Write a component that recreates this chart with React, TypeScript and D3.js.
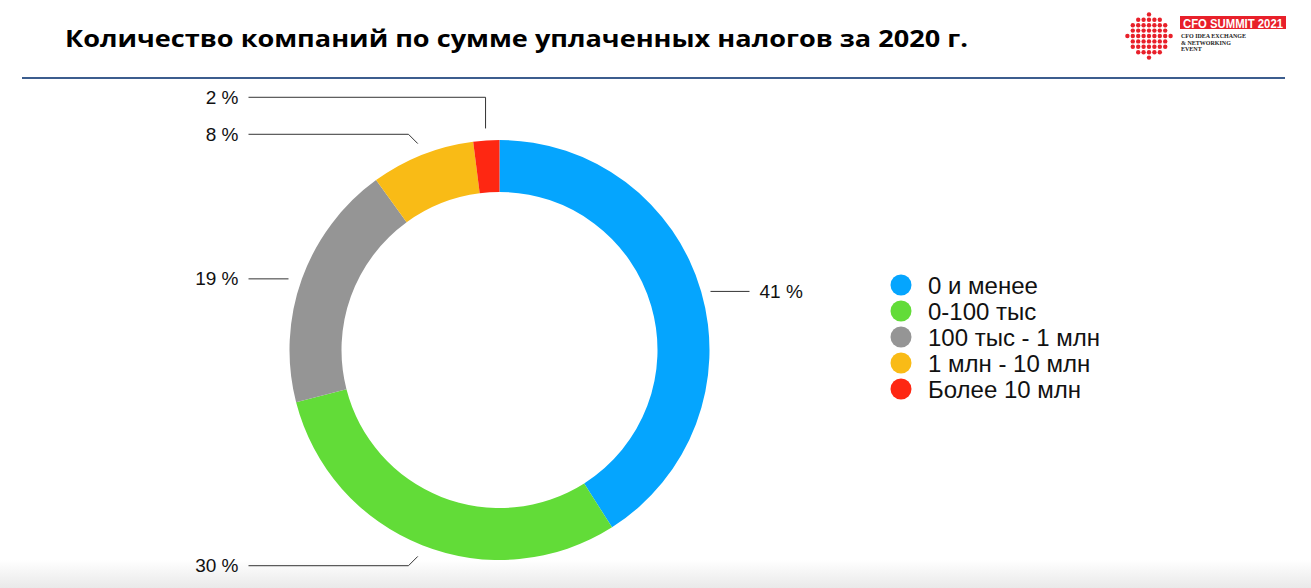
import * as d3 from 'd3';

const categories = ['0 и менее', '0-100 тыс', '100 тыс - 1 млн', '1 млн - 10 млн', 'Более 10 млн'];
const shares = [41, 30, 19, 8, 2];
const colors = ['#05a5fe', '#62dc38', '#959595', '#f9bb16', '#fe2712'];
const title = 'Количество компаний по сумме уплаченных налогов за 2020 г.';

const W = 1311;
const H = 588;
const cx = 499.5;
const cy = 350;
const outer = 210;
const inner = 158;
const labelFont = "'Liberation Sans', Arial, sans-serif";

type Slice = d3.PieArcDatum<number>;

// leader line + label position for one slice
function callout(d: Slice, placed: number[]) {
  const mid = (d.startAngle + d.endAngle) / 2;
  const sx = Math.sin(mid);
  const cyy = -Math.cos(mid);
  const left = sx < 0;
  const lineEnd = left ? cx - 251 : cx + 250;
  const pts: [number, number][] = [];
  let ly: number;
  if (Math.abs(sx) > 0.9) {
    // side slice: plain horizontal leader
    ly = cy + cyy * outer;
    pts.push([cx + (left ? -1 : 1) * (outer + 1), ly], [lineEnd, ly]);
  } else {
    const p1: [number, number] = [cx + sx * (outer + 12), cy + cyy * (outer + 12)];
    ly = cy + cyy * (outer + 22);
    // push up if it collides with a label already placed
    placed.forEach(y => {
      if (Math.abs(ly - y) < 36) ly = y - 37;
    });
    let elbowX: number;
    if (Math.abs(ly - (cy + cyy * (outer + 22))) > 1) elbowX = p1[0];
    else elbowX = p1[0] - (left ? 1 : -1) * Math.abs(ly - p1[1]);
    pts.push(p1, [elbowX, ly], [lineEnd, ly]);
  }
  placed.push(ly);
  return { pts, ly, left, lineEnd };
}

export default function App() {
  const pie = d3.pie<number>().sort(null).value(v => v);
  const arcs = pie(shares);
  const arc = d3.arc<Slice>().innerRadius(inner).outerRadius(outer);

  const placed: number[] = [];
  // lay out larger slices first so tiny ones get nudged
  const order = d3.range(arcs.length).sort((a, b) => shares[b] - shares[a]);
  const calls: ReturnType<typeof callout>[] = [];
  order.forEach(i => { calls[i] = callout(arcs[i], placed); });

  const legendY = d3.scalePoint<string>().domain(categories).range([285, 389]);

  // logo dot grid
  const dots: [number, number][] = [];
  d3.range(-4, 5).forEach(i => d3.range(-4, 5).forEach(j => {
    const x = i * 5.4;
    const y = j * 5.4;
    if (Math.hypot(x, y) <= 22) dots.push([1149 + x, 36 + y]);
  }));

  return (
    <svg width={W} height={H} style={{ position: 'absolute', left: 0, top: 0, background: '#fff' }}>
      <defs>
        <linearGradient id="foot" x1="0" y1="0" x2="0" y2="1">
          <stop offset="0" stopColor="#ffffff" />
          <stop offset="1" stopColor="#e9e9e9" />
        </linearGradient>
      </defs>
      <rect x={0} y={560} width={W} height={28} fill="url(#foot)" />

      <text x={65} y={47} fontFamily="'Open Sans', 'DejaVu Sans', sans-serif" fontWeight={700}
        fontSize={24} fill="#000" textLength={903} lengthAdjust="spacingAndGlyphs">{title}</text>
      <line x1={22} x2={1285} y1={78} y2={78} stroke="#3c5d8e" strokeWidth={2} />

      {/* logo */}
      <g>
        {dots.map((p, i) => <circle key={i} cx={p[0]} cy={p[1]} r={2.2} fill="#e8202a" />)}
        <rect x={1180} y={16} width={106} height={13} fill="#e8202a" />
        <text x={1183} y={27.5} fill="#fff" fontFamily={labelFont} fontWeight={700} fontSize={12.5}
          textLength={100} lengthAdjust="spacingAndGlyphs">CFO  SUMMIT 2021</text>
        {['CFO IDEA EXCHANGE', '& NETWORKING', 'EVENT'].map((t, i) => (
          <text key={t} x={1181} y={38 + i * 6.5} fontFamily="'Liberation Serif', serif" fontWeight={700} fontSize={6} fill="#222">{t}</text>
        ))}
      </g>

      <g transform={`translate(${cx},${cy})`}>
        {arcs.map((a, i) => <path key={i} d={arc(a) || ''} fill={colors[i]} />)}
      </g>

      {calls.map((c, i) => (
        <g key={i}>
          <polyline points={c.pts.map(p => p.join(',')).join(' ')} fill="none" stroke="#333" strokeWidth={1} />
          <text x={c.left ? c.lineEnd - 10 : c.lineEnd + 10} y={c.ly + 6.5} textAnchor={c.left ? 'end' : 'start'}
            fontFamily={labelFont} fontSize={19} fill="#111">{`${shares[i]} %`}</text>
        </g>
      ))}

      {categories.map((c, i) => (
        <g key={c}>
          <circle cx={901} cy={legendY(c)!} r={10.5} fill={colors[i]} />
          <text x={928} y={(legendY(c) || 0) + 8.5} fontFamily={labelFont} fontSize={24} fill="#111">{c}</text>
        </g>
      ))}
    </svg>
  );
}
